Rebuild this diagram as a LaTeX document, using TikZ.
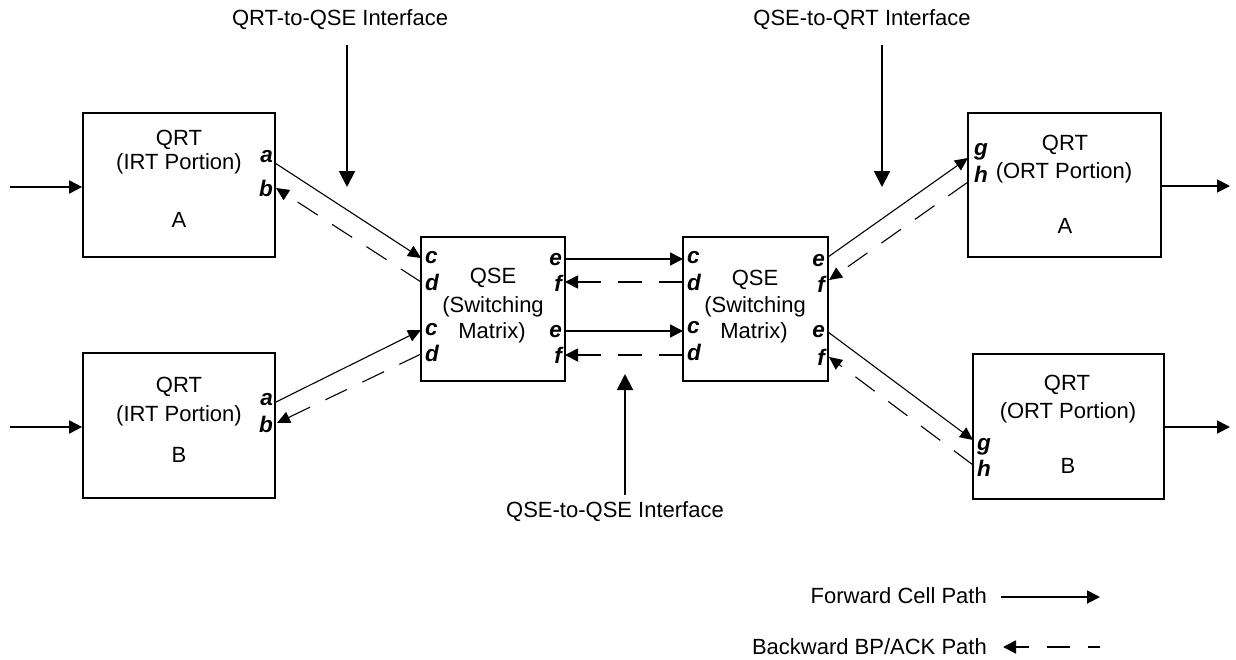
\documentclass[tikz,border=0pt]{standalone}
\usepackage{fontspec}
\setmainfont{Liberation Sans}
\usetikzlibrary{arrows.meta}
\begin{document}
\begin{tikzpicture}[x=1pt,y=-1pt,
  box/.style={draw,line width=1.7pt,inner sep=0pt},
  txt/.style={font=\fontsize{22}{25}\selectfont,inner sep=0pt},
  port/.style={font=\fontsize{22.5}{25}\selectfont\bfseries\itshape,inner sep=0pt},
  fwd/.style={line width=1.1pt,-{Triangle[length=13pt,width=12pt]}},
  fwdh/.style={line width=1.8pt,-{Triangle[length=13pt,width=13pt]}},
  bwd/.style={line width=1.1pt,dash pattern=on 24pt off 17pt,-{Triangle[length=13pt,width=12pt]}},
  bwdh/.style={line width=1.8pt,dash pattern=on 24pt off 17pt,-{Triangle[length=13pt,width=13pt]}},
  iface/.style={line width=2pt,-{Triangle[length=16pt,width=16pt]}}]
\useasboundingbox (0,0) rectangle (1236,659);

% boxes
\node[box,minimum width=192pt,minimum height=144pt] (irtA) at (179,185) {};
\node[box,minimum width=192pt,minimum height=145pt] (irtB) at (179,425.5) {};
\node[box,minimum width=144pt,minimum height=144pt] (qse1) at (493,309) {};
\node[box,minimum width=145pt,minimum height=144pt] (qse2) at (755.5,309) {};
\node[box,minimum width=193pt,minimum height=144pt] (ortA) at (1064.5,185) {};
\node[box,minimum width=191pt,minimum height=145pt] (ortB) at (1068.5,426.5) {};

% box texts
\node[txt] (tA1) at (179,140) {QRT};
\node[txt] (tA2) at (179,164) {(IRT Portion)};
\node[txt] (tA3) at (179,220) {A};
\node[txt] (tB1) at (179,387) {QRT};
\node[txt] (tB2) at (179,416) {(IRT Portion)};
\node[txt] (tB3) at (179,455) {B};
\node[txt] (q11) at (493,278) {QSE};
\node[txt] (q12) at (493,307) {(Switching};
\node[txt] (q13) at (492,333) {Matrix)};
\node[txt] (q21) at (755,280) {QSE};
\node[txt] (q22) at (755,307) {(Switching};
\node[txt] (q23) at (754,333) {Matrix)};
\node[txt] (oA1) at (1065,145) {QRT};
\node[txt] (oA2) at (1064,173) {(ORT Portion)};
\node[txt] (oA3) at (1065,226) {A};
\node[txt] (oB1) at (1067,385) {QRT};
\node[txt] (oB2) at (1068,413) {(ORT Portion)};
\node[txt] (oB3) at (1068,466) {B};

% port labels
\node[port,anchor=east] (la1) at (273,157) {a};
\node[port,anchor=east] (lb1) at (273,188) {b};
\node[port,anchor=east] (la2) at (273,400) {a};
\node[port,anchor=east] (lb2) at (273,424) {b};
\node[port,anchor=west] (lc1) at (425,258) {c};
\node[port,anchor=west] (ld1) at (425,282) {d};
\node[port,anchor=west] (lc2) at (425,330) {c};
\node[port,anchor=west] (ld2) at (425,353) {d};
\node[port,anchor=east] (le1) at (562,260) {e};
\node[port,anchor=east] (lf1) at (562,283) {f};
\node[port,anchor=east] (le2) at (562,332) {e};
\node[port,anchor=east] (lf2) at (562,355) {f};
\node[port,anchor=west] (lc3) at (687,258) {c};
\node[port,anchor=west] (ld3) at (687,282) {d};
\node[port,anchor=west] (lc4) at (687,328) {c};
\node[port,anchor=west] (ld4) at (687,352) {d};
\node[port,anchor=east] (le3) at (825,261) {e};
\node[port,anchor=east] (lf3) at (825,284) {f};
\node[port,anchor=east] (le4) at (825,332) {e};
\node[port,anchor=east] (lf4) at (825,357) {f};
\node[port,anchor=west] (lg1) at (974,152) {g};
\node[port,anchor=west] (lh1) at (974,174) {h};
\node[port,anchor=west] (lg2) at (977,447) {g};
\node[port,anchor=west] (lh2) at (977,468) {h};

% port points
\coordinate (pa1) at (275,163);
\coordinate (pb1) at (276,188);
\coordinate (pa2) at (276,402);
\coordinate (pb2) at (277,423);
\coordinate (pc1) at (421,258);
\coordinate (pd1) at (421,282);
\coordinate (pc2) at (421,330);
\coordinate (pd2) at (421,354);
\coordinate (pe1) at (565,259);
\coordinate (pf1) at (565,282);
\coordinate (pe2) at (565,331);
\coordinate (pf2) at (565,355);
\coordinate (pc3) at (683,259);
\coordinate (pd3) at (683,282);
\coordinate (pc4) at (683,331);
\coordinate (pd4) at (683,355);
\coordinate (pe3) at (828,257);
\coordinate (pf3) at (829,280);
\coordinate (pe4) at (828,332);
\coordinate (pf4) at (829,357);
\coordinate (pg1) at (968,158);
\coordinate (ph1) at (968,182);
\coordinate (pg2) at (973,440);
\coordinate (ph2) at (973,465);

% QRT <-> QSE
\draw[fwd] (pa1) -- (pc1);
\draw[bwd] (pd1) -- (pb1);
\draw[fwd] (pa2) -- (pc2);
\draw[bwd] (pd2) -- (pb2);
% QSE <-> QSE
\draw[fwdh] (pe1) -- (pc3);
\draw[bwdh] (pd3) -- (pf1);
\draw[fwdh] (pe2) -- (pc4);
\draw[bwdh] (pd4) -- (pf2);
% QSE <-> ORT
\draw[fwd] (pe3) -- (pg1);
\draw[bwd] (ph1) -- (pf3);
\draw[fwd] (pe4) -- (pg2);
\draw[bwd] (ph2) -- (pf4);

% inputs / outputs
\coordinate (inA) at (10,187);
\coordinate (inB) at (10,427);
\coordinate (outA) at (1230,186);
\coordinate (outB) at (1230,427);
\draw[fwdh] (inA) -- (inA -| irtA.west);
\draw[fwdh] (inB) -- (inB -| irtB.west);
\draw[fwdh] (outA -| ortA.east) -- (outA);
\draw[fwdh] (outB -| ortB.east) -- (outB);

% interface labels and arrows
\node[txt] (if1) at (340,20) {QRT-to-QSE Interface};
\node[txt] (if2) at (862,20) {QSE-to-QRT Interface};
\node[txt] (if3) at (615,512) {QSE-to-QSE Interface};
\coordinate (i1s) at (347,45);
\coordinate (i1e) at (347,187);
\coordinate (i2s) at (882,45);
\coordinate (i2e) at (882,187);
\coordinate (i3s) at (625,495);
\coordinate (i3e) at (625,374);
\draw[iface] (i1s) -- (i1e);
\draw[iface] (i2s) -- (i2e);
\draw[iface] (i3s) -- (i3e);

% legend
\node[txt,anchor=east] (lgf) at (987,596) {Forward Cell Path};
\node[txt,anchor=east] (lgb) at (987,647) {Backward BP/ACK Path};
\coordinate (lf0) at (1001,597);
\coordinate (lf1) at (1100,597);
\coordinate (lb0) at (1100,647);
\coordinate (lb1) at (1003,647);
\draw[fwdh] (lf0) -- (lf1);
\draw[bwdh,dash pattern=on 23pt off 18pt,dash phase=11pt] (lb0) -- (lb1);
\end{tikzpicture}
\end{document}
